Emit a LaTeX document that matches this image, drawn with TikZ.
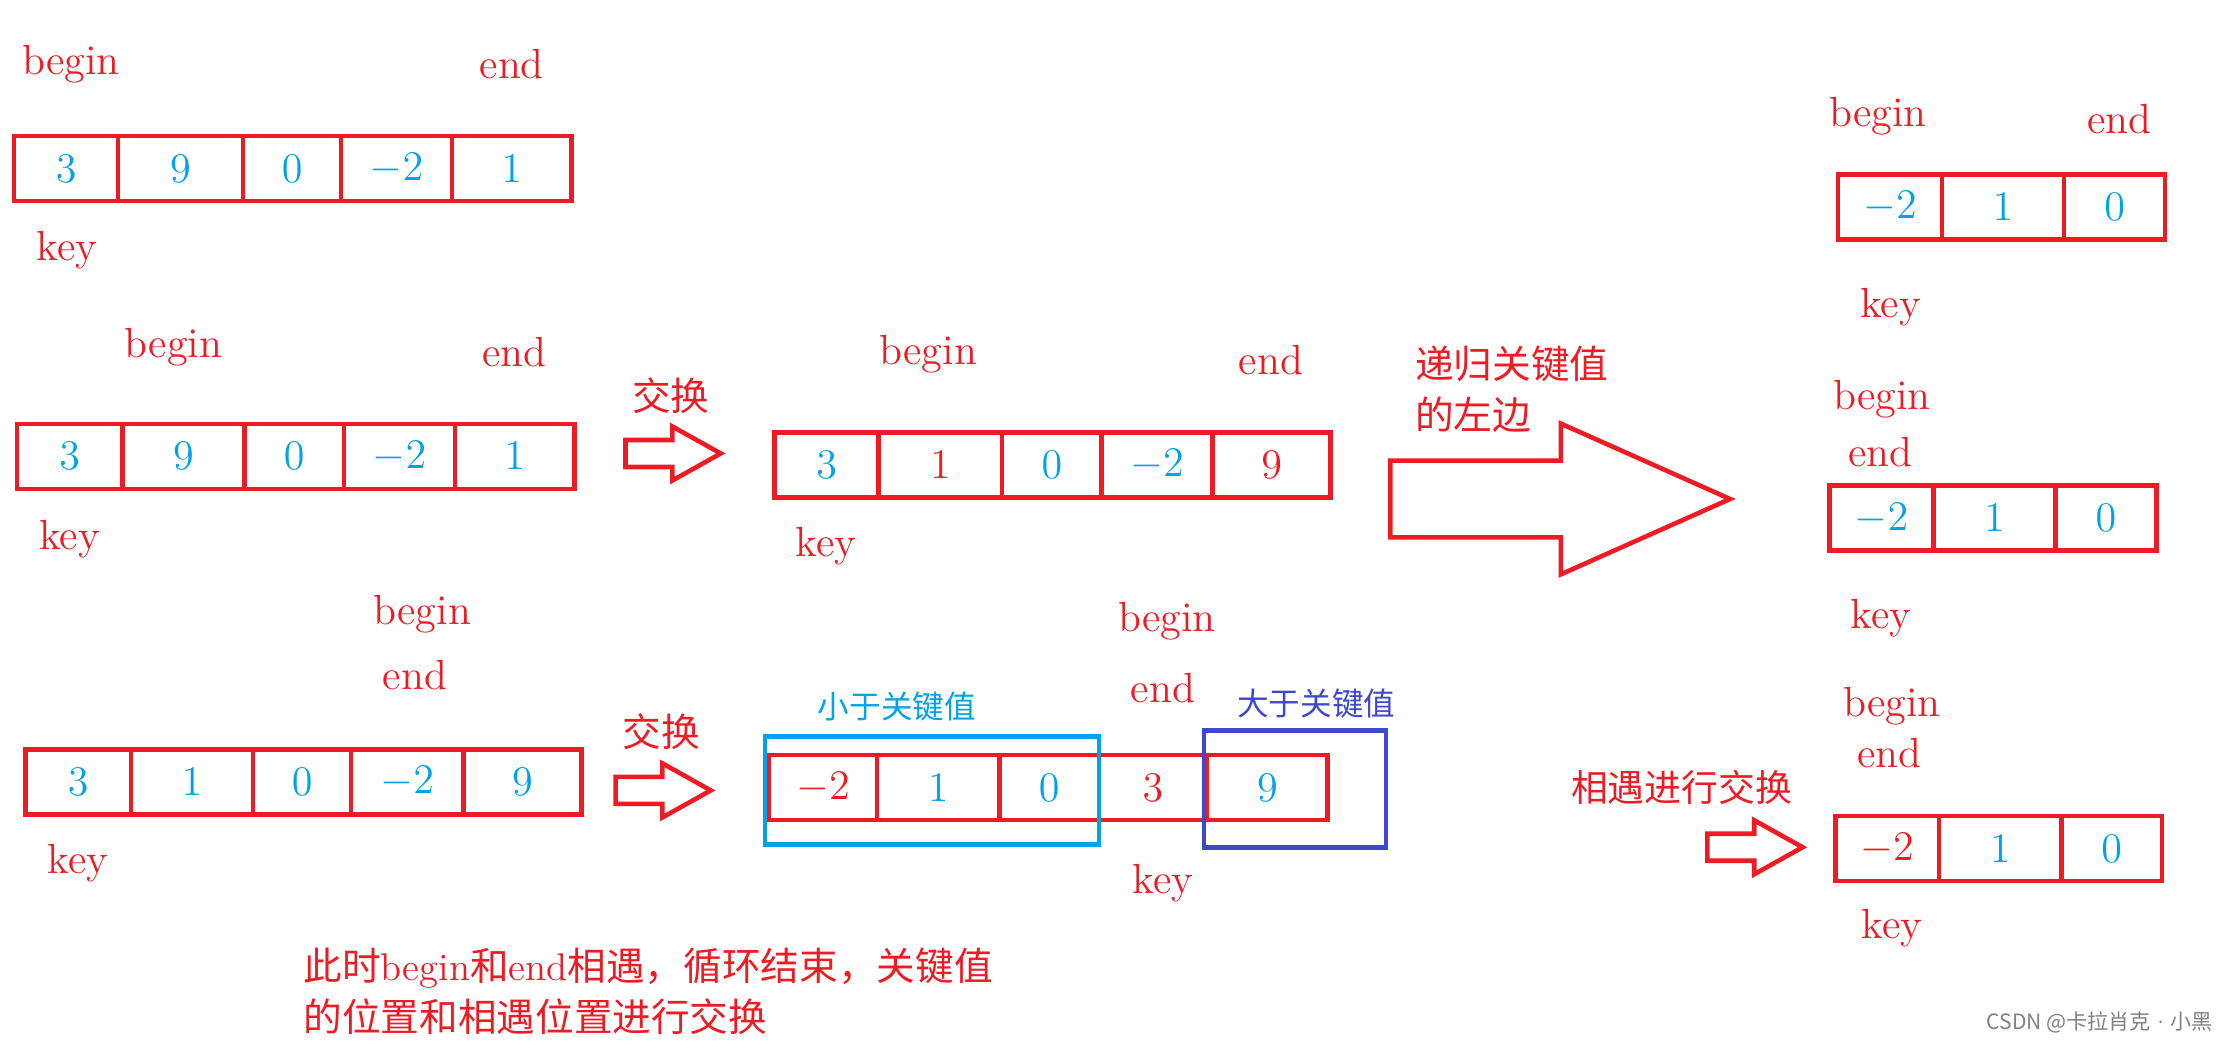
\documentclass[tikz,border=0pt]{standalone}
\usepackage{fontspec}
\newfontfamily\cjk{Noto Sans CJK SC}
\usetikzlibrary{fit}
\definecolor{myred}{HTML}{ED1C24}
\definecolor{myblue}{HTML}{00A2E8}
\definecolor{myindigo}{HTML}{3F48CC}

\begin{document}
\begin{tikzpicture}[x = 0.014216cm, y = -0.014216cm, % screen pixels, y down
                cell/.style = {draw = myred, line width = 1.3pt, inner sep = 0pt,
                    minimum height = 0.65cm, text = myblue,
                    font = \fontsize{12}{14}\selectfont},
                lbl/.style = {text = myred, inner sep = 0pt,
                    font = \fontsize{12}{14}\selectfont},
                zh/.style = {text = myred, inner sep = 0pt,
                    font = \cjk\fontsize{11}{14.5}\selectfont},
                group/.style = {line width = 1.3pt, inner sep = 0pt},
                hollow/.style = {draw = myred, line width = 1.3pt, line join = miter}
            ]

            \useasboundingbox (0,0) rectangle (1568,733);

            % first array
            \foreach \l/\r/\v/\c [count=\i] in {10/83/3/myblue, 83/171/9/myblue,
                171/240/0/myblue, 240/318/-2/myblue, 318/402/1/myblue}
                \node[cell, text=\c, minimum width={(\r-\l)*0.014216cm}]
                    (a\i) at ({(\l+\r)/2},118.5) {$\v$};
            \node[lbl] (abeg) at (50,45) {begin};
            \node[lbl] (aend) at (360,45) {end};
            \node[lbl] (akey) at (47,176) {key};

            % second array
            \foreach \l/\r/\v/\c [count=\i] in {12/86/3/myblue, 86/172/9/myblue,
                172/242/0/myblue, 242/320/-2/myblue, 320/404/1/myblue}
                \node[cell, text=\c, minimum width={(\r-\l)*0.014216cm}]
                    (b\i) at ({(\l+\r)/2},321) {$\v$};
            \node[lbl] (bbeg) at (122,244) {begin};
            \node[lbl] (bend) at (362,248) {end};
            \node[lbl] (bkey) at (49,379) {key};

            % after first swap
            \foreach \l/\r/\v/\c [count=\i] in {545/618/3/myblue, 618/705/1/myred,
                705/775/0/myblue, 775/853/-2/myblue, 853/936/9/myred}
                \node[cell, text=\c, minimum width={(\r-\l)*0.014216cm}]
                    (c\i) at ({(\l+\r)/2},327) {$\v$};
            \node[lbl] (cbeg) at (653,249) {begin};
            \node[lbl] (cend) at (894,253) {end};
            \node[lbl] (ckey) at (581,384) {key};

            % third array
            \foreach \l/\r/\v/\c [count=\i] in {18/92/3/myblue, 92/178/1/myblue,
                178/247/0/myblue, 247/326/-2/myblue, 326/409/9/myblue}
                \node[cell, text=\c, minimum width={(\r-\l)*0.014216cm}]
                    (g\i) at ({(\l+\r)/2},550) {$\v$};
            \node[lbl] (gbeg) at (297,432) {begin};
            \node[lbl] (gend) at (292,475) {end};
            \node[lbl] (gkey) at (55,607) {key};

            % key swapped into place
            \foreach \l/\r/\v/\c [count=\i] in {541/617/-2/myred, 617/703/1/myblue,
                703/773/0/myblue, 773/849/3/myred, 849/934/9/myblue}
                \node[cell, text=\c, minimum width={(\r-\l)*0.014216cm}]
                    (h\i) at ({(\l+\r)/2},554) {$\v$};
            \node[lbl] (hbeg) at (821,437) {begin};
            \node[lbl] (hend) at (818,484) {end};
            \node[lbl] (hkey) at (818,621) {key};
            \node[group, draw=myblue, fit={(538,518) (773,594)}] (less) {};
            \node[group, draw=myindigo, fit={(847,514) (975,596)}] (more) {};
            \node[zh, text=myblue, font=\cjk\fontsize{9}{11}\selectfont]
                (lesstxt) at (631,497) {小于关键值};
            \node[zh, text=myindigo, font=\cjk\fontsize{9}{11}\selectfont]
                (moretxt) at (926,495) {大于关键值};

            % left part, three times
            \foreach \l/\r/\v [count=\i] in {1293/1366/-2, 1366/1452/1, 1452/1523/0}
                \node[cell, minimum width={(\r-\l)*0.014216cm}]
                    (d\i) at ({(\l+\r)/2},145.5) {$\v$};
            \node[lbl] (dbeg) at (1321,82) {begin};
            \node[lbl] (dend) at (1491,84) {end};
            \node[lbl] (dkey) at (1330,216) {key};

            \foreach \l/\r/\v [count=\i] in {1287/1360/-2, 1360/1446/1, 1446/1517/0}
                \node[cell, minimum width={(\r-\l)*0.014216cm}]
                    (e\i) at ({(\l+\r)/2},364.5) {$\v$};
            \node[lbl] (ebeg) at (1324,281) {begin};
            \node[lbl] (eend) at (1323,318) {end};
            \node[lbl] (ekey) at (1323,435) {key};

            \foreach \l/\r/\v/\c [count=\i] in {1291/1364/-2/myred,
                1364/1450/1/myblue, 1450/1521/0/myblue}
                \node[cell, text=\c, minimum width={(\r-\l)*0.014216cm}]
                    (f\i) at ({(\l+\r)/2},597) {$\v$};
            \node[lbl] (fbeg) at (1331,497) {begin};
            \node[lbl] (fend) at (1329,530) {end};
            \node[lbl] (fkey) at (1331,653) {key};

            % hollow arrows
            \foreach \x/\y in {440/319, 433/556, 1201/596}
                \draw[hollow] (\x,\y-9.5) -- ++(33,0) -- ++(0,-9.5) -- ++(34,19)
                    -- ++(-34,19) -- ++(0,-9.5) -- ++(-33,0) -- cycle;
            \draw[hollow] (978,324) -- (1098,324) -- (1098,298) -- (1217,351)
                -- (1098,404) -- (1098,378) -- (978,378) -- cycle;

            \node[zh] (swap1) at (472,278) {交换};
            \node[zh] (swap2) at (465,515) {交换};
            \node[zh, font=\cjk\fontsize{10.5}{13}\selectfont] (meet) at (1183,554) {相遇进行交换};
            \node[zh, anchor=west, align=left] (recur) at (995,274)
                {递归关键值\\的左边};
            \node[zh, anchor=west, align=left] (note) at (213,697)
                {此时{\rmfamily begin}和{\rmfamily end}相遇，循环结束，关键值\\的位置和相遇位置进行交换};

            \node[anchor=east, text=gray, inner sep=0pt,
                font=\cjk\fontsize{6}{7}\selectfont] (mark) at (1557,719)
                {CSDN @卡拉肖克{\rmfamily\textperiodcentered}小黑};
        \end{tikzpicture}
\end{document}
